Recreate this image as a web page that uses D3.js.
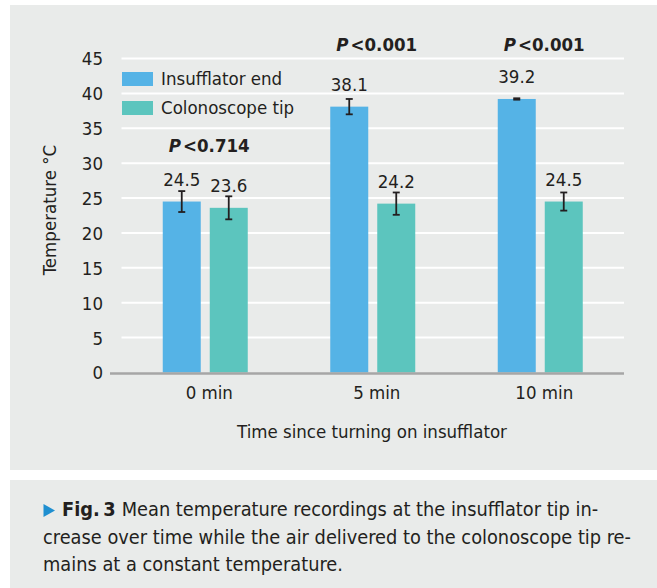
<!DOCTYPE html>
<html><head><meta charset="utf-8">
<script src="https://cdn.jsdelivr.net/npm/d3@7"></script>
<style>
html,body{margin:0;padding:0;background:#fff;}
svg text{font-family:"Liberation Sans Narrow","DejaVu Sans Condensed","Open Sans",sans-serif;fill:#231f20;}
</style></head>
<body>
<svg id="chart" width="657" height="588"></svg>
<script>
const categories = ["0 min", "5 min", "10 min"];
const seriesNames = ["Insufflator end", "Colonoscope tip"];
const insufflatorEnd = [24.5, 38.1, 39.2];
const colonoscopeTip = [23.6, 24.2, 24.5];
const insufflatorErr = [1.5, 1.1, 0.1];
const colonoscopeErr = [1.65, 1.6, 1.3];
const pLabels = ["<0.714", "<0.001", "<0.001"];
const yTicks = [0, 5, 10, 15, 20, 25, 30, 35, 40, 45];
const colors = ["#55b3e6", "#5cc5be"];
const xTitle = "Time since turning on insufflator";
const yTitle = "Temperature °C";
const captionLines = [
  "Mean temperature recordings at the insufflator tip in-",
  "crease over time while the air delivered to the colonoscope tip re-",
  "mains at a constant temperature."
];

const FS = 18.5;
const svg = d3.select("#chart");
const bg = "#e9ebea";
svg.append("rect").attr("x",10).attr("y",5).attr("width",647).attr("height",465).attr("fill",bg);
svg.append("rect").attr("x",10).attr("y",480).attr("width",647).attr("height",108).attr("fill",bg);

const m = {left:121.5, right:624, top:58.5, bottom:372.5};
const x = d3.scaleBand().domain(categories).range([m.left, m.right]);
const y = d3.scaleLinear().domain([0,45]).range([m.bottom, m.top]);
const barW = 38, gap = 9;
const sub = d3.scaleOrdinal().domain(seriesNames).range([-(gap/2+barW), gap/2]);

// gridlines
svg.append("g").selectAll("line").data(yTicks.filter(d=>d>0)).join("line")
  .attr("x1",m.left).attr("x2",m.right)
  .attr("y1",d=>y(d)).attr("y2",d=>y(d))
  .attr("stroke","#ffffff").attr("stroke-width",2);

// y axis labels
const yAxis = d3.axisLeft(y).tickValues(yTicks).tickSize(0).tickPadding(0);
const yg = svg.append("g").attr("transform",`translate(103,0)`).call(yAxis);
yg.select(".domain").remove();
yg.selectAll("text").attr("font-size",FS).attr("dy","0.35em").style("font-family",null);

const data = categories.map((c,i)=>({c, vals:[
  {s:seriesNames[0], v:insufflatorEnd[i], e:insufflatorErr[i]},
  {s:seriesNames[1], v:colonoscopeTip[i], e:colonoscopeErr[i]}]}));

const groups = svg.append("g").selectAll("g").data(data).join("g")
  .attr("transform",d=>`translate(${x(d.c)+x.bandwidth()/2},0)`);
groups.selectAll("rect").data(d=>d.vals).join("rect")
  .attr("x",d=>sub(d.s)).attr("width",barW)
  .attr("y",d=>y(d.v)).attr("height",d=>y(0)-y(d.v))
  .attr("fill",(d,i)=>colors[i]);

// error bars
const eb = groups.selectAll("g.eb").data(d=>d.vals).join("g").attr("class","eb")
  .attr("transform",d=>`translate(${sub(d.s)+barW/2},0)`);
eb.append("line").attr("x1",0).attr("x2",0).attr("y1",d=>y(d.v+d.e)).attr("y2",d=>y(d.v-d.e))
  .attr("stroke","#231f20").attr("stroke-width",1.8);
eb.append("line").attr("x1",-3.5).attr("x2",3.5).attr("y1",d=>y(d.v+d.e)).attr("y2",d=>y(d.v+d.e))
  .attr("stroke","#231f20").attr("stroke-width",1.8);
eb.append("line").attr("x1",-3.5).attr("x2",3.5).attr("y1",d=>y(d.v-d.e)).attr("y2",d=>y(d.v-d.e))
  .attr("stroke","#231f20").attr("stroke-width",1.8);

// value labels
groups.selectAll("text.val").data(d=>d.vals).join("text").attr("class","val")
  .attr("x",d=>sub(d.s)+barW/2).attr("y",d=>y(d.v)-22)
  .attr("text-anchor","middle").attr("dy","0.35em").attr("font-size",FS)
  .text(d=>d.v.toFixed(1));

// p labels
groups.append("text").attr("text-anchor","middle").attr("font-size",FS).attr("font-weight","bold")
  .attr("x",4)
  .attr("y",(d,i)=>i===0 ? y(32.5) : y(47)).attr("dy","0.35em")
  .each(function(d,i){
    const t=d3.select(this);
    t.append("tspan").attr("font-style","italic").text("P");
    t.append("tspan").attr("dx",2).text(pLabels[i]);
  });

// baseline
svg.append("line").attr("x1",110).attr("x2",m.right).attr("y1",y(0)+1).attr("y2",y(0)+1)
  .attr("stroke","#a6a6a6").attr("stroke-width",2.5);

// x axis labels
const xAxis = d3.axisBottom(x).tickSize(0).tickPadding(0);
const xg = svg.append("g").attr("transform",`translate(4,393)`).call(xAxis);
xg.select(".domain").remove();
xg.selectAll("text").attr("font-size",FS).attr("dy","0.35em").style("font-family",null);

svg.append("text").attr("x",372).attr("y",432).attr("dy","0.35em").attr("text-anchor","middle")
  .attr("font-size",FS).text(xTitle);
svg.append("text").attr("transform","translate(50,210) rotate(-90)").attr("dy","0.35em")
  .attr("text-anchor","middle").attr("font-size",FS).text(yTitle);

// legend
const lg = svg.append("g").selectAll("g").data(seriesNames).join("g")
  .attr("transform",(d,i)=>`translate(122,${72+i*29})`);
lg.append("rect").attr("width",31).attr("height",14).attr("fill",(d,i)=>colors[i]);
lg.append("text").attr("x",39).attr("y",7).attr("dy","0.35em").attr("font-size",FS).text(d=>d);

// caption
const CFS = 19.8;
const cap = svg.append("g");
cap.append("path").attr("d","M43.5,504 L55,510.5 L43.5,517 Z").attr("fill","#1f8fd0");
const l1 = cap.append("text").attr("x",62).attr("y",516).attr("font-size",CFS);
l1.append("tspan").attr("font-weight","bold").text("Fig.\u20093");
l1.append("tspan").attr("dx",6).text(captionLines[0]);
cap.append("text").attr("x",43).attr("y",543.5).attr("font-size",CFS).text(captionLines[1]);
cap.append("text").attr("x",43).attr("y",571).attr("font-size",CFS).text(captionLines[2]);
</script>
</body></html>
